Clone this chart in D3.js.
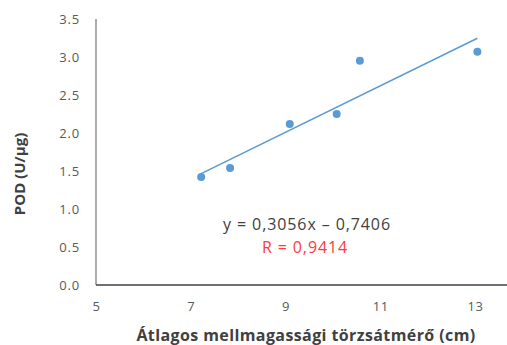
<!DOCTYPE html>
<html>
<head>
<meta charset="utf-8">
<script src="https://cdn.jsdelivr.net/npm/d3@7"></script>
<style>
  html, body { margin: 0; padding: 0; background: #fff; }
  svg { display: block; }
</style>
</head>
<body>
<svg id="chart" width="507" height="345"></svg>
<script>
// Mean breast-height trunk diameter (cm) vs. POD activity (U/µg)
const diameters = [7.22, 7.83, 9.09, 10.08, 10.57, 13.05];
const podValues = [1.42, 1.54, 2.12, 2.25, 2.95, 3.07];
const xTicks = [5, 7, 9, 11, 13];
const yTicks = [0, 0.5, 1, 1.5, 2, 2.5, 3, 3.5];
const slope = 0.3056;
const intercept = -0.7406;
const rValue = "0,9414";

const svg = d3.select("#chart");

const x = d3.scaleLinear().domain([5, 13]).range([96, 475]);
const y = d3.scaleLinear().domain([0, 3.5]).range([285, 19]);
const xEnd = 507;

const tickColor = "#595959";
const fontFamily = "'Open Sans', 'Liberation Sans', sans-serif";

// Axes
const xAxis = d3.axisBottom(x).tickValues(xTicks).tickSize(0).tickPadding(17)
  .tickFormat(d3.format("d"));
const gx = svg.append("g").attr("transform", `translate(0,${y(0)})`).call(xAxis);
gx.select(".domain").remove();
gx.selectAll("text").attr("fill", tickColor).attr("font-size", 13)
  .attr("letter-spacing", 0.6).attr("font-family", fontFamily);

const yAxis = d3.axisLeft(y).tickValues(yTicks).tickSize(0).tickPadding(16)
  .tickFormat(d => d3.format(".1f")(d));
const gy = svg.append("g").attr("transform", `translate(${x(5)},0)`).call(yAxis);
gy.select(".domain").remove();
gy.selectAll("text").attr("fill", tickColor).attr("font-size", 13)
  .attr("letter-spacing", 0.8).attr("font-family", fontFamily);

// Axis lines
svg.append("line")
  .attr("x1", x(5)).attr("x2", x(5)).attr("y1", y(3.5)).attr("y2", y(0))
  .attr("stroke", "#808080").attr("stroke-width", 1.3);
svg.append("line")
  .attr("x1", x(5)).attr("x2", xEnd).attr("y1", y(0)).attr("y2", y(0))
  .attr("stroke", "#404040").attr("stroke-width", 1.3);

// Linear trendline over the observed range
const xMin = d3.min(diameters), xMax = d3.max(diameters);
svg.append("line")
  .attr("x1", x(xMin)).attr("y1", y(slope * xMin + intercept))
  .attr("x2", x(xMax)).attr("y2", y(slope * xMax + intercept))
  .attr("stroke", "#5b9bd5").attr("stroke-width", 1.6);

// Data points
svg.selectAll("circle.pt")
  .data(diameters.map((d, i) => [d, podValues[i]]))
  .join("circle")
  .attr("class", "pt")
  .attr("cx", d => x(d[0])).attr("cy", d => y(d[1]))
  .attr("r", 4)
  .attr("fill", "#5b9bd5");

// Equation and correlation labels
svg.append("text")
  .attr("x", 307).attr("y", 230)
  .attr("text-anchor", "middle")
  .attr("font-family", fontFamily).attr("font-size", 16).attr("letter-spacing", 0.9)
  .attr("fill", "#404040")
  .text(`y = ${String(slope).replace(".", ",")}x – ${String(-intercept).replace(".", ",")}`);
svg.append("text")
  .attr("x", 305).attr("y", 253)
  .attr("text-anchor", "middle")
  .attr("font-family", fontFamily).attr("font-size", 16).attr("letter-spacing", 0.9)
  .attr("fill", "#ff3b3b")
  .text(`R = ${rValue}`);

// Axis titles
svg.append("text")
  .attr("x", 306).attr("y", 341)
  .attr("text-anchor", "middle")
  .attr("font-family", fontFamily).attr("font-size", 16).attr("font-weight", "bold")
  .attr("letter-spacing", 0.4)
  .attr("fill", "#404040")
  .text("Átlagos mellmagassági törzsátmérő (cm)");
svg.append("text")
  .attr("transform", "translate(25,174) rotate(-90)")
  .attr("text-anchor", "middle")
  .attr("font-family", fontFamily).attr("font-size", 15).attr("font-weight", "bold")
  .attr("fill", "#404040")
  .text("POD (U/µg)");
</script>
</body>
</html>
